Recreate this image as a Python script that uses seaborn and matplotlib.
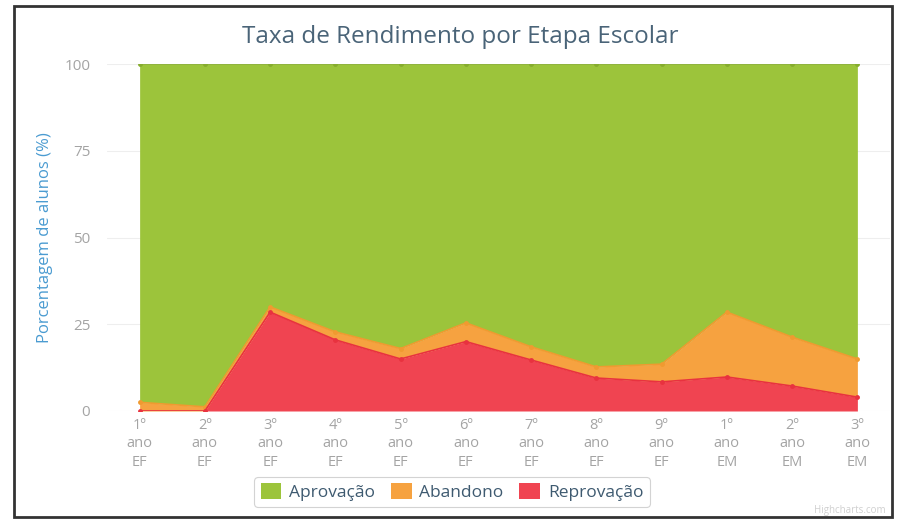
import matplotlib
matplotlib.use("Agg")
import matplotlib.pyplot as plt
import seaborn as sns
import numpy as np
import pandas as pd
from matplotlib.patches import Rectangle, Patch

categories = ["1º\nano\nEF", "2º\nano\nEF", "3º\nano\nEF", "4º\nano\nEF", "5º\nano\nEF",
              "6º\nano\nEF", "7º\nano\nEF", "8º\nano\nEF", "9º\nano\nEF",
              "1º\nano\nEM", "2º\nano\nEM", "3º\nano\nEM"]
reprovacao = [0, 0, 28.5, 20.5, 15.0, 20.0, 14.7, 9.5, 8.4, 9.8, 7.2, 4.0]
abandono = [2.5, 1.2, 1.5, 2.3, 3.0, 5.4, 3.8, 3.2, 5.1, 18.7, 14.1, 11.0]
aprovacao = [100 - r - a for r, a in zip(reprovacao, abandono)]
yticks = [0, 25, 50, 75, 100]

green = "#9cc43b"
orange = "#f6a240"
red = "#f04451"

sns.set_theme(style="white")
plt.rcParams["font.family"] = ["Open Sans", "DejaVu Sans"]

fig = plt.figure(figsize=(8.97, 5.22), dpi=100)
ax = fig.add_axes([107/897, 111/522, 783/897, 347/522])

x = np.arange(len(categories))
r = np.array(reprovacao)
a = np.array(abandono)
p = np.array(aprovacao)
top_r = r
top_a = r + a
top_p = r + a + p

ax.fill_between(x, 0, top_r, color=red, lw=0, zorder=2)
ax.fill_between(x, top_r, top_a, color=orange, lw=0, zorder=2)
ax.fill_between(x, top_a, top_p, color=green, lw=0, zorder=2)

df = pd.DataFrame({"x": np.concatenate([x, x, x]),
                   "y": np.concatenate([top_p, top_a, top_r]),
                   "s": ["Aprovação"] * 12 + ["Abandono"] * 12 + ["Reprovação"] * 12})
sns.lineplot(data=df, x="x", y="y", hue="s",
             palette={"Aprovação": "#86ac2e", "Abandono": "#f09a30", "Reprovação": "#e8323f"},
             marker="o", markersize=3.5, markeredgewidth=0, linewidth=1.2,
             legend=False, ax=ax, zorder=3)

ax.set_xlim(-0.5, len(categories) - 0.5)
ax.set_ylim(0, 100)
ax.set_yticks(yticks)
ax.set_yticklabels([str(t) for t in yticks], color="#a4a4a4", fontsize=11)
ax.set_xticks(x)
ax.set_xticklabels(categories, color="#a4a4a4", fontsize=10.5, linespacing=1.3)
ax.tick_params(axis="both", length=0, pad=5)
ax.tick_params(axis="y", pad=12)
for s in ax.spines.values():
    s.set_visible(False)
ax.grid(axis="y", color="#eeeeee", lw=0.8, zorder=0)
ax.set_axisbelow(True)
ax.set_xlabel("")
ax.set_ylabel("Porcentagem de alunos (%)", color="#4a9bd1", fontsize=12, labelpad=8)

fig.text(460/897, 1 - 37/522, "Taxa de Rendimento por Etapa Escolar", ha="center", va="center",
         fontsize=17.5, color="#4a6478")

handles = [Patch(facecolor=green, edgecolor="none", label="Aprovação"),
           Patch(facecolor=orange, edgecolor="none", label="Abandono"),
           Patch(facecolor=red, edgecolor="none", label="Reprovação")]
leg = fig.legend(handles=handles, loc="center", bbox_to_anchor=(452/897, 1 - 492/522),
                 ncol=3, frameon=True, fontsize=12.5, handlelength=1.2, handleheight=1.0,
                 columnspacing=0.9, handletextpad=0.45, borderpad=0.35, fancybox=True)
leg.get_frame().set_edgecolor("#c8c8c8")
leg.get_frame().set_linewidth(0.8)
for t in leg.get_texts():
    t.set_color("#3e5a70")

fig.text(886/897, 1 - 511/522, "Highcharts.com", ha="right", va="center", fontsize=7, color="#d0d0d0")

fig.patches.append(Rectangle((14/897, 5/522), 878/897, 511/522, transform=fig.transFigure,
                             fill=False, edgecolor="#333333", lw=2))

fig.savefig("out.png", dpi=100)
